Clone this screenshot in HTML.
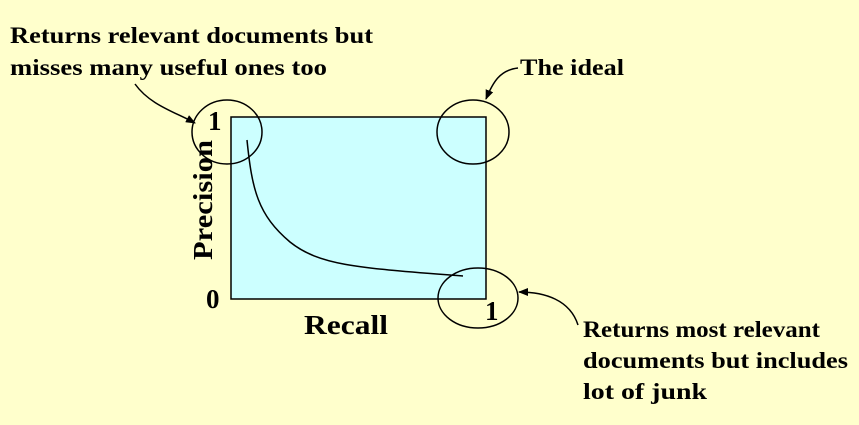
<!DOCTYPE html>
<html><head><style>
body{margin:0;background:#ffffcc;}
svg{display:block}
text{font-family:"Liberation Serif",serif;font-weight:bold;fill:#000}
</style></head><body>
<svg width="859" height="425" viewBox="0 0 859 425">
<defs><marker id="a" markerWidth="10" markerHeight="8" refX="9" refY="4" orient="auto" markerUnits="userSpaceOnUse"><path d="M0,0 L10,4 L0,8 Z" fill="#000"/></marker></defs>
<rect width="859" height="425" fill="#ffffcc"/>
<rect x="231" y="117" width="255" height="182" fill="#ccffff" stroke="#000" stroke-width="1.5"/>
<ellipse cx="227" cy="132" rx="35" ry="32" fill="none" stroke="#000" stroke-width="1.5"/>
<ellipse cx="473" cy="132" rx="36" ry="32" fill="none" stroke="#000" stroke-width="1.5"/>
<ellipse cx="478" cy="298" rx="40" ry="30" fill="none" stroke="#000" stroke-width="1.5"/>
<path d="M247,140 C252,190 258,215 290,242 C320,266 360,268 463,276" fill="none" stroke="#000" stroke-width="1.5"/>
<text x="208" y="130" font-size="27">1</text>
<text x="206" y="308" font-size="27">0</text>
<text x="485" y="320" font-size="27">1</text>
<text x="304" y="334" font-size="27" textLength="84" lengthAdjust="spacingAndGlyphs">Recall</text>
<text transform="translate(212,260) rotate(-90)" font-size="27" textLength="120" lengthAdjust="spacingAndGlyphs">Precision</text>
<text x="10" y="43" font-size="23" textLength="363" lengthAdjust="spacingAndGlyphs">Returns relevant documents but</text>
<text x="10" y="75" font-size="23" textLength="317" lengthAdjust="spacingAndGlyphs">misses many useful ones too</text>
<text x="520" y="75" font-size="23" textLength="104" lengthAdjust="spacingAndGlyphs">The ideal</text>
<text x="583" y="337" font-size="23" textLength="237" lengthAdjust="spacingAndGlyphs">Returns most relevant</text>
<text x="583" y="368" font-size="23" textLength="265" lengthAdjust="spacingAndGlyphs">documents but includes</text>
<text x="583" y="399" font-size="23" textLength="124" lengthAdjust="spacingAndGlyphs">lot of  junk</text>
<path d="M135,84 C150,105 175,112 195,123" fill="none" stroke="#000" stroke-width="1.5" marker-end="url(#a)"/>
<path d="M518,68 C500,70 493,82 486,99" fill="none" stroke="#000" stroke-width="1.5" marker-end="url(#a)"/>
<path d="M578,325 C570,300 545,292 519,292" fill="none" stroke="#000" stroke-width="1.5" marker-end="url(#a)"/>
</svg>
</body></html>
